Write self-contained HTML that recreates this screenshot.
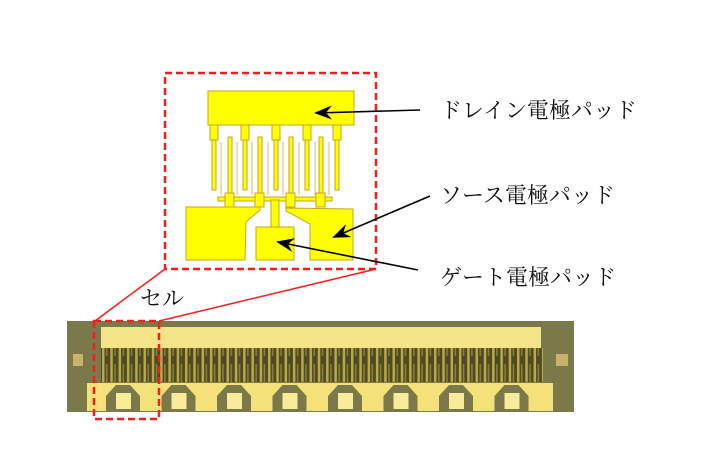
<!DOCTYPE html>
<html><head><meta charset="utf-8"><style>
html,body{margin:0;padding:0;background:#fff}
svg{display:block}
text{font-family:"Liberation Serif","Noto Serif CJK SC",serif;font-size:22px;fill:#111}
</style></head><body>
<svg width="728" height="455" viewBox="0 0 728 455" xmlns="http://www.w3.org/2000/svg">
<defs>
<marker id="ah" markerWidth="18" markerHeight="14" refX="16" refY="7" orient="auto" markerUnits="userSpaceOnUse">
<path d="M0,0 L18,7 L0,14 L6,7 Z" fill="#000"/></marker>
<pattern id="fing" x="101" y="0" width="8.3" height="40" patternUnits="userSpaceOnUse">
<rect x="0" y="0" width="8.3" height="40" fill="#4e4a22"/>
<rect x="1" y="0" width="2.5" height="40" fill="#b9a94a"/>
<rect x="5" y="4" width="1.5" height="32" fill="#8f8236"/>
</pattern>
</defs>
<g fill="#ffff00" stroke="#c9a325" stroke-width="1">
<rect x="208" y="91" width="146" height="34"/>
<rect x="210" y="125" width="8" height="15"/><rect x="241" y="125" width="8" height="15"/>
<rect x="272" y="125" width="8" height="15"/><rect x="303" y="125" width="8" height="15"/>
<rect x="333" y="125" width="8" height="15"/>
<rect x="212" y="140" width="4" height="50"/><rect x="243" y="140" width="4" height="50"/>
<rect x="274" y="140" width="4" height="50"/><rect x="305" y="140" width="4" height="50"/>
<rect x="335" y="140" width="4" height="50"/>
<rect x="228" y="137" width="4" height="58"/><rect x="258" y="137" width="4" height="58"/>
<rect x="289" y="137" width="4" height="58"/><rect x="319" y="137" width="4" height="58"/>
<rect x="218" y="197" width="114" height="4"/>
<rect x="225" y="193" width="9" height="14"/><rect x="255" y="193" width="9" height="14"/>
<rect x="286" y="193" width="9" height="14"/><rect x="316" y="193" width="9" height="14"/>
<rect x="271" y="200" width="8" height="28"/>
<path d="M186,207 L260,207 L260,210 L246,222 L245,260 L186,260 Z"/>
<path d="M286,208 L286,211 L310,224 L310,260 L353,260 L353,209 Z"/>
<rect x="256" y="227" width="38" height="33"/>
</g>
<g stroke="#d8b868" stroke-width="1">
<line x1="221" y1="142" x2="221" y2="195"/><line x1="237" y1="142" x2="237" y2="195"/>
<line x1="252" y1="142" x2="252" y2="195"/><line x1="268" y1="142" x2="268" y2="195"/>
<line x1="283" y1="142" x2="283" y2="195"/><line x1="299" y1="142" x2="299" y2="195"/>
<line x1="315" y1="142" x2="315" y2="195"/><line x1="329" y1="142" x2="329" y2="195"/>
</g>
<rect x="165" y="73" width="211" height="196" fill="none" stroke="#ff1a1a" stroke-width="2.5" stroke-dasharray="7,4"/>
<g stroke="#000" stroke-width="1.6" fill="none" marker-end="url(#ah)">
<line x1="420" y1="110" x2="316" y2="113"/>
<line x1="430" y1="196" x2="334" y2="237"/>
<line x1="418" y1="270" x2="278" y2="242"/>
</g>
<text x="440" y="118">ドレイン電極パッド</text>
<text x="440" y="203">ソース電極パッド</text>
<text x="440" y="285">ゲート電極パッド</text>
<text x="140" y="306">セル</text>
<rect x="67" y="321" width="507" height="91" fill="#7b784a"/>
<rect x="101" y="327" width="440" height="21" fill="#f2e487"/>
<rect x="101" y="348" width="442" height="34" fill="url(#fing)"/>
<rect x="87" y="383" width="466" height="28" fill="#f4e179"/>
<g fill="#7b784a">
<g id="cell"><path d="M106,411 L106,396 L116,385 L130,385 L140,396 L140,411 Z"/></g>
<use href="#cell" x="55.5"/><use href="#cell" x="111"/><use href="#cell" x="166.5"/>
<use href="#cell" x="222"/><use href="#cell" x="277.5"/><use href="#cell" x="333"/><use href="#cell" x="388.5"/>
</g>
<g fill="#f8ec9a">
<rect x="116" y="393" width="15" height="16" id="gp"/>
<use href="#gp" x="55.5"/><use href="#gp" x="111"/><use href="#gp" x="166.5"/>
<use href="#gp" x="222"/><use href="#gp" x="277.5"/><use href="#gp" x="333"/><use href="#gp" x="388.5"/>
</g>
<rect x="73" y="354" width="10" height="12" fill="#c7b46a"/>
<rect x="556" y="354" width="12" height="12" fill="#c7b46a"/>
<rect x="94" y="321" width="65" height="98" fill="none" stroke="#ff1a1a" stroke-width="2.5" stroke-dasharray="7,4"/>
<line x1="95" y1="321" x2="165" y2="269" stroke="#ff1a1a" stroke-width="1.5"/>
<line x1="159" y1="321" x2="376" y2="269" stroke="#ff1a1a" stroke-width="1.5"/>
</svg>
</body></html>
